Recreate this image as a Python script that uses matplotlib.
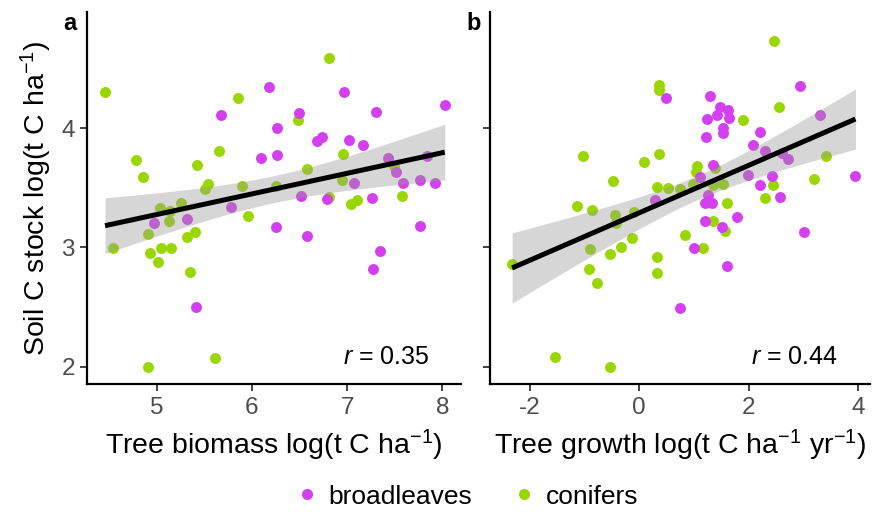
import numpy as np
import matplotlib
matplotlib.use("Agg")
import matplotlib.pyplot as plt
from matplotlib.lines import Line2D

plt.rcParams['font.family'] = ['Liberation Sans', 'DejaVu Sans']
plt.rcParams['mathtext.fontset'] = 'custom'
plt.rcParams['mathtext.rm'] = 'Liberation Sans'
plt.rcParams['mathtext.it'] = 'Liberation Sans:italic'
plt.rcParams['mathtext.default'] = 'regular'

# panel a: tree biomass vs soil C (log)
biomass_broad_x = [6.18, 6.97, 8.025, 5.675, 6.498, 7.307, 6.26, 6.687, 6.74, 7.02, 7.17,
                   6.10, 6.267, 7.433, 7.514, 7.843, 7.07, 7.59, 7.77, 7.92, 6.516, 6.786,
                   7.258, 4.975, 5.322, 5.78, 5.416, 6.25, 6.582, 7.77, 7.346, 7.269]
biomass_broad_y = [4.346, 4.30, 4.193, 4.106, 4.123, 4.131, 3.997, 3.894, 3.927, 3.897, 3.855,
                   3.749, 3.771, 3.746, 3.629, 3.765, 3.542, 3.536, 3.561, 3.536, 3.433, 3.405,
                   3.41, 3.201, 3.235, 3.335, 2.50, 3.173, 3.092, 3.181, 2.969, 2.821]
biomass_conif_x = [4.457, 6.81, 5.857, 6.488, 4.78, 4.86, 5.654, 5.42, 6.957, 6.579, 7.496,
                   6.943, 5.536, 5.507, 5.896, 6.253, 7.58, 6.81, 7.038, 7.104, 5.035, 5.14,
                   5.252, 5.129, 5.962, 4.912, 5.315, 5.405, 4.544, 4.933, 5.045, 5.153,
                   5.014, 5.35, 4.909, 5.612]
biomass_conif_y = [4.30, 4.584, 4.254, 4.067, 3.732, 3.592, 3.81, 3.687, 3.779, 3.656, 3.684,
                   3.564, 3.531, 3.486, 3.514, 3.514, 3.433, 3.424, 3.363, 3.397, 3.332, 3.304,
                   3.369, 3.223, 3.265, 3.109, 3.089, 3.131, 2.997, 2.955, 2.997, 2.997,
                   2.874, 2.79, 1.994, 2.07]

# panel b: tree growth vs soil C (log)
growth_broad_x = [2.94, 0.492, 1.29, 1.476, 1.63, 1.426, 1.242, 1.648, 1.537, 1.531, 1.23,
                  2.2, 3.315, 2.079, 2.306, 2.718, 2.61, 1.353, 1.12, 1.998, 2.43, 3.954,
                  2.214, 1.249, 2.583, 0.29, 1.2, 1.334, 1.784, 1.2, 1.513, 3.007, 1.003,
                  1.599, 0.738]
growth_broad_y = [4.355, 4.251, 4.268, 4.173, 4.151, 4.106, 4.075, 4.086, 4.0, 3.955, 3.927,
                  3.964, 4.112, 3.857, 3.81, 3.737, 3.793, 3.69, 3.589, 3.606, 3.60, 3.60,
                  3.52, 3.438, 3.424, 3.396, 3.374, 3.374, 3.257, 3.223, 3.173, 3.131, 2.992,
                  2.843, 2.494]
growth_conif_x = [2.472, 0.369, 0.369, 2.55, 1.90, 3.419, -1.033, 0.363, 0.086, -0.474, 1.058,
                  1.033, 1.384, 3.205, 2.441, 0.332, 0.53, 0.738, 0.984, 1.341, 1.537, 2.306,
                  1.605, 1.353, 1.562, 0.83, 1.168, -1.144, -0.861, -0.449, -0.43, -0.099,
                  -0.129, -0.326, -0.535, -0.898, 0.326, 0.326, -0.91, -0.769, -2.325,
                  -1.537, -0.529]
growth_conif_y = [4.729, 4.36, 4.318, 4.179, 4.064, 3.765, 3.768, 3.785, 3.715, 3.553, 3.684,
                  3.634, 3.662, 3.57, 3.52, 3.508, 3.50, 3.491, 3.528, 3.52, 3.531, 3.416,
                  3.371, 3.218, 3.137, 3.103, 2.992, 3.346, 3.313, 3.271, 3.206, 3.293,
                  3.078, 3.005, 2.941, 2.983, 2.916, 2.782, 2.816, 2.703, 2.86,
                  2.078, 1.994]

r_values = ["0.35", "0.44"]
col_broad = "#D43FF0"
col_conif = "#9AD600"


def smooth(ax, x, y):
    # lm fit with 95% confidence band, like geom_smooth(method = "lm")
    x = np.asarray(x)
    y = np.asarray(y)
    n = len(x)
    b, a = np.polyfit(x, y, 1)
    resid = y - (a + b * x)
    s = np.sqrt(np.sum(resid ** 2) / (n - 2))
    xs = np.linspace(x.min(), x.max(), 100)
    se = s * np.sqrt(1.0 / n + (xs - x.mean()) ** 2 / np.sum((x - x.mean()) ** 2))
    fit = a + b * xs
    ax.fill_between(xs, fit - 1.99 * se, fit + 1.99 * se, color="#999999", alpha=0.4,
                    linewidth=0, zorder=3)
    ax.plot(xs, fit, color="black", linewidth=3.6, zorder=4, solid_capstyle="butt")


fig = plt.figure(figsize=(8.74, 5.12), dpi=100)
ax1 = fig.add_axes([0.0999, 0.25, 0.4276, 0.727])
ax2 = fig.add_axes([0.5606, 0.25, 0.4348, 0.727])

panels = [
    (ax1, biomass_broad_x, biomass_broad_y, biomass_conif_x, biomass_conif_y),
    (ax2, growth_broad_x, growth_broad_y, growth_conif_x, growth_conif_y),
]
for ax, bx, by, cx, cy in panels:
    ax.scatter(cx, cy, s=62, color=col_conif, linewidths=0, zorder=2)
    ax.scatter(bx, by, s=62, color=col_broad, linewidths=0, zorder=2)
    smooth(ax, list(bx) + list(cx), list(by) + list(cy))
    ax.set_ylim(1.854, 4.975)
    ax.set_yticks([2, 3, 4])
    for side in ["top", "right"]:
        ax.spines[side].set_visible(False)
    for side in ["left", "bottom"]:
        ax.spines[side].set_linewidth(1.6)
    ax.tick_params(length=5, width=1.3, colors="#333333", labelcolor="#4D4D4D",
                   labelsize=17.5, pad=4)

ax1.set_xlim(4.271, 8.196)
ax1.set_xticks([5, 6, 7, 8])
ax2.set_xlim(-2.73, 4.22)
ax2.set_xticks([-2, 0, 2, 4])
ax2.set_yticklabels([])

ax1.set_xticklabels(["5", "6", "7", "8"])
ax2.set_xticklabels(["-2", "0", "2", "4"])

ax1.set_xlabel("Tree biomass log(t C ha$^{-1}$)", fontsize=20.5, labelpad=7)
ax2.set_xlabel("Tree growth log(t C ha$^{-1}$ yr$^{-1}$)", fontsize=20.5, labelpad=7)
ax1.set_ylabel("Soil C stock log(t C ha$^{-1}$)", fontsize=20.5, labelpad=5)

for ax, rv in zip([ax1, ax2], r_values):
    ax.text(0.915, 0.055, "$\\mathit{r}$ = " + rv, transform=ax.transAxes,
            ha="right", va="baseline", fontsize=18)

fig.text(0.080, 0.955, "a", fontsize=17, fontweight="bold", ha="center", va="center")
fig.text(0.542, 0.955, "b", fontsize=17, fontweight="bold", ha="center", va="center")

handles = [
    Line2D([], [], marker="o", linestyle="", markersize=8, markerfacecolor=col_broad,
           markeredgewidth=0, label="broadleaves"),
    Line2D([], [], marker="o", linestyle="", markersize=8, markerfacecolor=col_conif,
           markeredgewidth=0, label="conifers"),
]
fig.legend(handles=handles, loc="center", bbox_to_anchor=(0.533, 0.03), ncol=2,
           frameon=False, fontsize=19, handletextpad=0.3, columnspacing=1.5,
           handlelength=1.0)

fig.savefig("out.png", dpi=100)
